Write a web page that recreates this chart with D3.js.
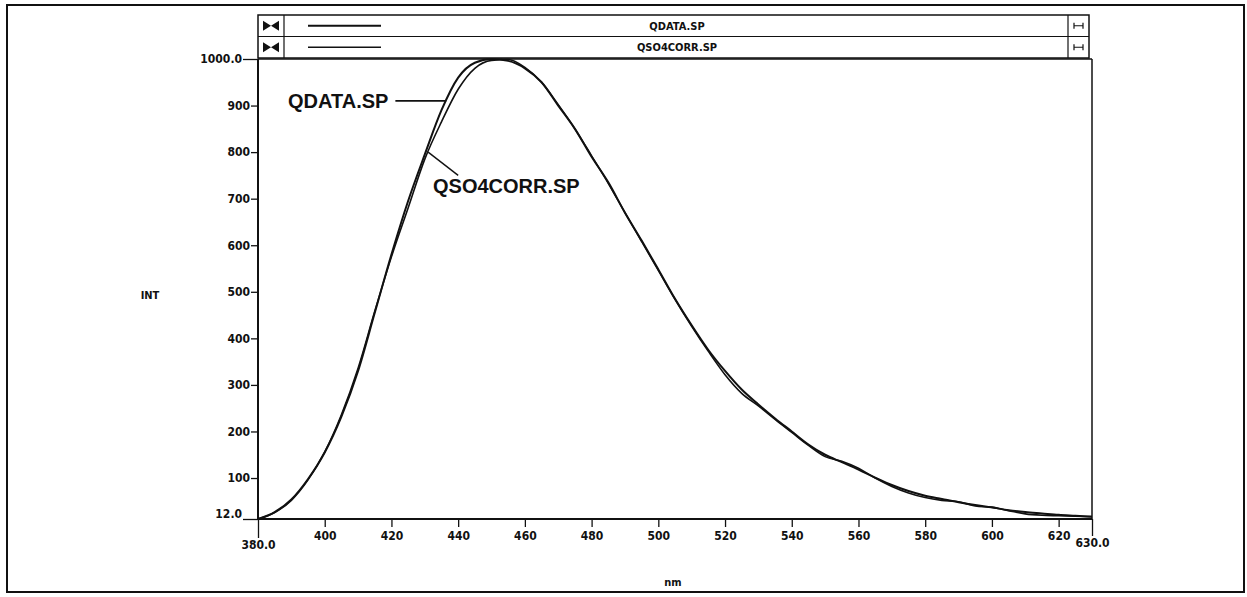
<!DOCTYPE html>
<html>
<head>
<meta charset="utf-8">
<script src="https://cdn.jsdelivr.net/npm/d3@7"></script>
<style>
  html, body { margin: 0; padding: 0; background: #fff; }
  svg { display: block; }
  .tick text { font-family: "Liberation Sans Narrow", "DejaVu Sans Condensed", sans-serif; font-size: 12px; font-weight: bold; fill: #111; }
</style>
</head>
<body>
<svg id="chart" width="1247" height="597"></svg>
<script>
// ---- data ----
const wavelengths = [380,385,390,395,400,405,410,415,420,425,430,435,440,445,450,455,460,465,470,475,480,485,490,495,500,505,510,515,520,525,530,535,540,545,550,555,560,565,570,575,580,585,590,595,600,605,610,615,620,625,630];
const qdata =      [12,27,54,98,155,232,330,455,580,695,795,890,960,992,1000,996,980,950,900,850,790,735,670,610,548,485,428,375,330,290,258,228,200,172,150,134,118,101,85,72,62,55,48,42,37,31,27,24,21,19,17];
const qso4corr =   [12,26,52,96,156,236,336,458,575,680,785,865,935,980,997,999,982,950,902,850,792,733,670,608,546,484,426,372,322,282,255,226,198,170,146,136,121,100,82,68,58,52,49,40,37,30,23,20,19,18,17];
const seriesNames = ["QDATA.SP", "QSO4CORR.SP"];
const yTicks = [100,200,300,400,500,600,700,800,900];
const yEnds = [12, 1000];
const xTicks = [400,420,440,460,480,500,520,540,560,580,600,620];
const xEnds = [380, 630];
const xTitle = "nm";
const yTitle = "INT";

// ---- layout ----
const svg = d3.select("#chart");
const L = 258, R = 1092, T = 59, B = 519;
const x = d3.scaleLinear().domain([380, 630]).range([L, R]);
const y = d3.scaleLinear().domain([12, 1000]).range([B, T]);
const ink = "#111";
const font = '"Liberation Sans Narrow", "DejaVu Sans Condensed", sans-serif';

svg.append("rect").attr("width", 1247).attr("height", 597).attr("fill", "#fff");
// outer frame
svg.append("rect").attr("x", 7).attr("y", 5).attr("width", 1237).attr("height", 587)
  .attr("fill", "none").attr("stroke", ink).attr("stroke-width", 2);

// ---- header legend ----
const hx0 = 258, hx1 = 1089, hy0 = 15, hy1 = 58, rowH = (hy1 - hy0) / 2;
const hdr = svg.append("g");
hdr.append("rect").attr("x", hx0).attr("y", hy0).attr("width", hx1 - hx0).attr("height", hy1 - hy0)
  .attr("fill", "none").attr("stroke", ink).attr("stroke-width", 1.5);
hdr.append("line").attr("x1", hx0).attr("x2", hx1).attr("y1", hy0 + rowH).attr("y2", hy0 + rowH)
  .attr("stroke", ink).attr("stroke-width", 1.2);
hdr.append("line").attr("x1", 284).attr("x2", 284).attr("y1", hy0).attr("y2", hy1).attr("stroke", ink).attr("stroke-width", 1.2);
hdr.append("line").attr("x1", 1068).attr("x2", 1068).attr("y1", hy0).attr("y2", hy1).attr("stroke", ink).attr("stroke-width", 1.2);
const widths = [2, 1.6];
seriesNames.forEach((name, i) => {
  const cy = hy0 + rowH * i + rowH / 2;
  hdr.append("path")
    .attr("d", `M263,${cy-5}L263,${cy+5}L271,${cy}Z M279,${cy-5}L279,${cy+5}L271,${cy}Z`)
    .attr("fill", ink);
  hdr.append("line").attr("x1", 308).attr("x2", 381).attr("y1", cy).attr("y2", cy)
    .attr("stroke", ink).attr("stroke-width", widths[i]);
  hdr.append("text").attr("x", 677).attr("y", cy + 4).attr("text-anchor", "middle")
    .attr("font-family", font).attr("font-size", 11).attr("font-weight", "bold").attr("fill", ink).text(name);
  hdr.append("path")
    .attr("d", `M1074,${cy}L1083,${cy} M1074,${cy-3}L1074,${cy+3} M1083,${cy-3}L1083,${cy+3}`)
    .attr("stroke", ink).attr("stroke-width", 1.2).attr("fill", "none");
});

// ---- axes ----
const gy = svg.append("g").attr("transform", `translate(${L},0)`)
  .call(d3.axisLeft(y).tickValues(yTicks).tickSize(7).tickPadding(1).tickFormat(d3.format("d")));
const gyEnds = svg.append("g").attr("transform", `translate(${L},0)`)
  .call(d3.axisLeft(y).tickValues(yEnds).tickSize(15).tickPadding(1).tickFormat(d3.format(".1f")));
gyEnds.selectAll(".tick").filter(d => d === 12).select("text").attr("dy", "-0.1em");
const gx = svg.append("g").attr("transform", `translate(0,${B})`)
  .call(d3.axisBottom(x).tickValues(xTicks).tickSize(8).tickPadding(4).tickFormat(d3.format("d")));
const gxEnds = svg.append("g").attr("transform", `translate(0,${B})`)
  .call(d3.axisBottom(x).tickValues(xEnds).tickSize(19).tickPadding(2).tickFormat(d3.format(".1f")));
gxEnds.selectAll(".tick").filter(d => d === 630).select("line").attr("y2", 17);
gxEnds.selectAll(".tick").filter(d => d === 630).select("text").attr("y", 19);
[gy, gyEnds, gx, gxEnds].forEach(g => {
  g.select(".domain").remove();
  g.selectAll(".tick line").attr("stroke", ink).attr("stroke-width", 1.3);
});
svg.append("line").attr("x1", L).attr("x2", L).attr("y1", T).attr("y2", B).attr("stroke", ink).attr("stroke-width", 2);
svg.append("line").attr("x1", L).attr("x2", R).attr("y1", B).attr("y2", B).attr("stroke", ink).attr("stroke-width", 2);
svg.append("line").attr("x1", L).attr("x2", R).attr("y1", T).attr("y2", T).attr("stroke", ink).attr("stroke-width", 1.5);
svg.append("line").attr("x1", R).attr("x2", R).attr("y1", T).attr("y2", B).attr("stroke", ink).attr("stroke-width", 1.5);

svg.append("text").attr("x", 150).attr("y", 299).attr("text-anchor", "middle")
  .attr("font-family", font).attr("font-size", 11).attr("font-weight", "bold").attr("fill", ink).text(yTitle);
svg.append("text").attr("x", 673).attr("y", 586).attr("text-anchor", "middle")
  .attr("font-family", font).attr("font-size", 11).attr("font-weight", "bold").attr("fill", ink).text(xTitle);

// ---- curves ----
const line = d3.line().x(d => x(d[0])).y(d => y(d[1])).curve(d3.curveMonotoneX);
[qdata, qso4corr].forEach((vals, i) => {
  svg.append("path")
    .datum(wavelengths.map((w, j) => [w, vals[j]]))
    .attr("d", line)
    .attr("fill", "none").attr("stroke", ink).attr("stroke-width", widths[i])
    .attr("stroke-linejoin", "round");
});

// ---- annotations ----
const lab = svg.append("g").attr("font-family", '"Liberation Sans", Arial, sans-serif')
  .attr("font-weight", "bold").attr("font-size", 20).attr("fill", ink);
const t1 = lab.append("text").attr("x", 288).attr("y", 108).text(seriesNames[0]);
lab.append("text").attr("x", 433).attr("y", 193).text(seriesNames[1]);
const t1end = 288 + t1.node().getComputedTextLength();
svg.append("line").attr("x1", t1end + 7).attr("x2", x(436.4)).attr("y1", y(910)).attr("y2", y(910))
  .attr("stroke", ink).attr("stroke-width", 1.6);
svg.append("line").attr("x1", x(431)).attr("x2", x(440)).attr("y1", y(800)).attr("y2", y(750))
  .attr("stroke", ink).attr("stroke-width", 1.4);
</script>
</body>
</html>
